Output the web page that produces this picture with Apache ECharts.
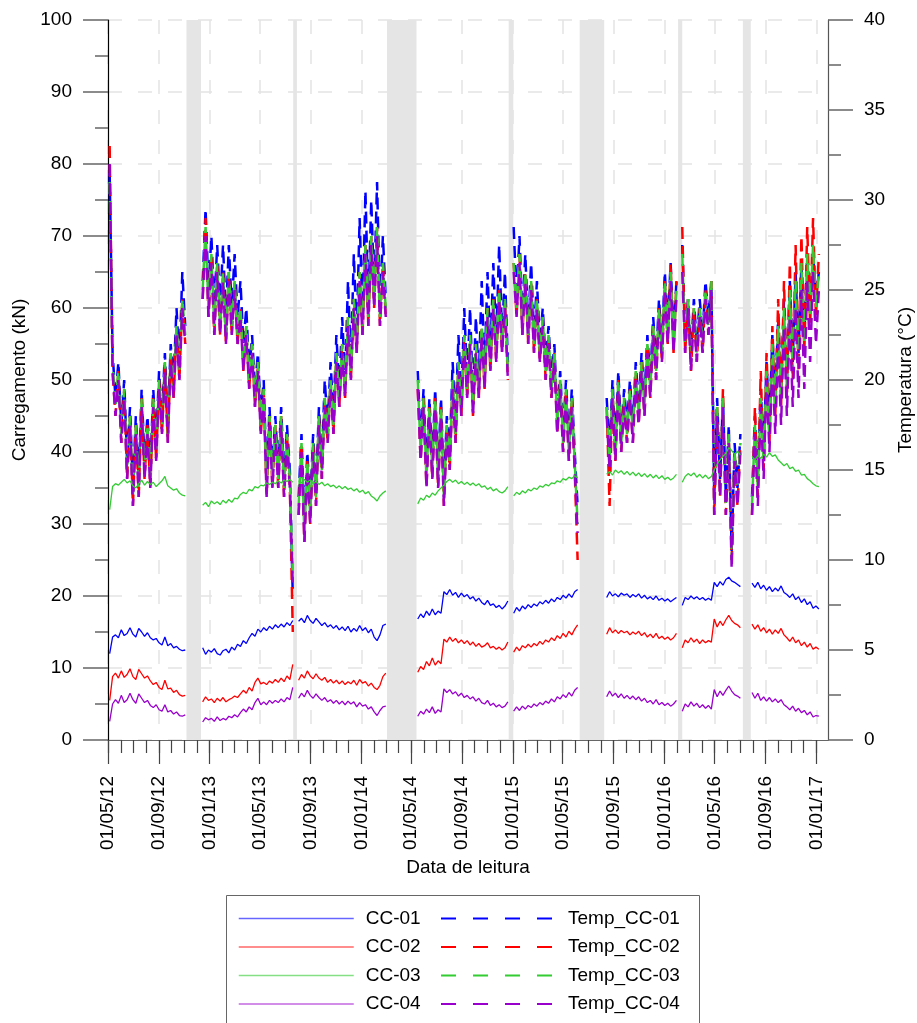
<!DOCTYPE html>
<html><head><meta charset="utf-8">
<script src="https://cdn.jsdelivr.net/npm/echarts@6/dist/echarts.min.js"></script>
<style>html,body{margin:0;padding:0;background:#fff}#c{width:917px;height:1023px}</style>
</head><body><div id="c"></div><script>
const _ = null;
// weekly samples starting 2012-05-05; null = no reading (grey periods)
const firstSampleDate = '2012-05-05';
const sampleStepDays = 7;

const xTickLabels = ['01/05/12','01/09/12','01/01/13','01/05/13','01/09/13','01/01/14','01/05/14','01/09/14','01/01/15','01/05/15','01/09/15','01/01/16','01/05/16','01/09/16','01/01/17'];
const gapPeriods = [['2012-11-06','2012-12-11'],['2013-07-21','2013-07-30'],['2014-03-04','2014-05-14'],['2014-12-22','2015-01-02'],['2015-06-11','2015-08-09'],['2016-02-03','2016-02-13'],['2016-07-08','2016-07-27']];

const cc01 = [
12.0,14.3,14.6,14.2,15.3,14.5,14.8,15.6,14.7,14.3,15.5,15.0,14.4,14.9,14.2,13.9,14.1,13.5,13.2,14.3,13.1,13.4,12.8,13.0,12.6,12.4,12.5,
_,_,_,_,_,
12.8,11.9,12.5,12.2,12.7,12.0,11.8,12.4,12.6,12.1,12.9,12.5,13.3,13.0,13.8,13.4,14.2,14.8,14.4,15.4,15.0,15.6,15.2,15.8,15.4,16.0,15.6,16.1,15.7,16.3,15.9,16.6,
_,
16.5,16.9,16.3,17.3,16.6,16.2,16.9,16.4,15.9,16.3,15.7,16.0,15.5,15.9,15.3,15.7,15.2,15.8,15.0,15.5,15.1,15.9,15.2,15.6,14.9,15.4,14.3,13.8,14.6,15.9,16.1,
_,_,_,_,_,_,_,_,_,_,
16.8,17.5,17.0,17.9,17.3,18.2,17.4,17.9,17.6,20.6,20.2,20.9,20.1,20.5,19.8,20.4,19.9,20.2,19.6,19.9,19.3,19.7,19.1,18.8,19.4,18.7,18.9,18.4,18.7,18.2,18.6,19.3,
_,
17.6,18.4,17.9,18.6,18.2,18.8,18.4,18.9,18.6,19.2,18.9,19.4,19.0,19.6,19.2,19.8,19.5,20.1,19.7,20.3,19.8,20.6,20.9,
_,_,_,_,_,_,_,_,_,
19.8,20.6,20.0,20.3,19.9,20.4,20.1,20.3,19.8,20.2,19.9,20.3,19.7,20.1,19.6,19.9,19.5,20.0,19.4,19.7,19.3,19.6,19.2,19.5,19.8,
_,
18.7,19.8,19.5,20.0,19.6,19.9,19.5,19.8,19.4,19.7,19.4,21.9,21.3,22.0,21.5,22.3,22.6,22.1,21.9,21.6,21.3,
_,_,_,
21.8,21.2,21.9,21.0,21.5,20.8,21.3,20.6,21.1,20.7,21.4,20.5,20.2,19.8,20.3,19.5,19.9,19.1,19.6,18.8,19.2,18.3,18.6,18.2];

const cc02 = [
5.5,8.8,9.3,8.6,9.6,8.7,9.1,9.9,8.8,8.4,9.8,9.2,8.6,8.9,8.2,7.7,8.0,7.3,7.0,8.3,7.1,7.2,6.6,6.9,6.3,6.1,6.2,
_,_,_,_,_,
5.3,6.0,5.5,5.7,5.2,5.8,5.4,5.9,5.3,5.6,5.8,6.1,5.9,6.4,6.9,6.5,7.3,6.8,8.0,8.6,7.8,8.0,7.7,8.2,7.9,8.4,8.0,8.6,8.1,8.9,8.4,10.5,
_,
8.3,9.1,8.6,9.6,8.9,8.5,9.2,8.6,8.3,8.7,8.0,8.4,7.9,8.3,7.8,8.2,7.7,8.1,7.8,8.3,7.6,8.4,7.9,8.1,7.5,7.9,7.3,7.0,7.6,8.8,9.3,
_,_,_,_,_,_,_,_,_,_,
9.4,10.2,9.8,10.9,10.3,11.4,10.4,11.0,10.6,14.0,13.6,14.3,13.7,14.1,13.5,13.9,13.4,13.8,13.2,13.6,13.0,13.4,12.9,13.1,13.5,12.8,13.0,12.6,12.9,12.5,12.8,13.6,
_,
12.2,12.9,12.4,13.1,12.8,13.3,12.9,13.4,13.1,13.7,13.3,13.9,13.6,14.2,13.8,14.5,14.1,14.8,14.3,15.1,14.6,15.4,16.0,
_,_,_,_,_,_,_,_,_,
14.7,15.6,14.9,15.3,14.8,15.2,14.9,15.1,14.6,15.0,14.7,15.1,14.5,14.9,14.3,14.7,14.2,14.8,14.1,14.4,14.0,14.3,13.9,14.2,14.8,
_,
12.8,13.9,13.5,14.2,13.6,14.0,13.4,13.9,13.5,13.8,13.6,16.8,15.7,16.5,15.9,16.7,17.3,16.6,16.2,16.0,15.6,
_,_,_,
16.1,15.4,16.0,15.1,15.6,14.9,15.4,14.7,15.3,14.8,15.5,14.6,14.2,13.7,14.3,13.5,13.9,13.1,13.6,12.9,13.4,12.6,12.9,12.6];

const cc03 = [
32.0,35.2,35.6,35.4,35.8,36.2,35.7,36.0,35.3,35.0,35.6,36.1,35.4,35.9,35.5,35.8,35.2,35.6,36.0,36.6,35.3,35.0,34.7,34.9,34.3,34.0,33.9,
_,_,_,_,_,
32.6,33.0,32.4,33.2,32.8,33.1,32.7,33.3,32.9,33.4,33.0,33.6,33.5,34.1,34.4,34.2,34.8,34.6,35.2,35.0,35.4,35.3,35.7,35.5,35.8,35.6,36.0,35.7,36.1,35.9,36.2,35.8,
_,
36.0,35.7,36.2,35.8,36.1,35.6,35.9,35.5,35.8,35.3,35.6,35.2,35.4,35.0,35.3,34.9,35.2,34.8,35.0,34.6,34.9,34.4,34.7,34.2,34.5,33.9,33.6,33.2,33.9,34.3,34.6,
_,_,_,_,_,_,_,_,_,_,
32.8,33.6,33.3,34.0,33.7,34.3,34.0,34.6,35.0,35.4,35.9,36.2,35.8,36.1,35.6,35.9,35.5,35.8,35.4,35.7,35.3,35.6,35.1,35.3,34.8,35.1,34.6,34.9,34.5,34.3,34.6,35.2,
_,
33.9,34.4,34.1,34.6,34.3,34.8,34.6,35.0,34.8,35.3,35.1,35.5,35.3,35.7,35.6,36.0,35.8,36.3,36.1,36.5,36.3,36.7,36.4,
_,_,_,_,_,_,_,_,_,
36.9,37.3,36.8,37.5,37.1,37.4,36.9,37.3,36.8,37.2,36.7,37.1,36.6,37.0,36.5,36.9,36.4,36.8,36.3,36.7,36.2,36.5,36.1,36.4,36.9,
_,
35.8,36.6,37.0,36.7,37.1,36.5,36.9,36.4,36.8,36.3,36.6,37.5,38.3,38.9,39.4,39.8,40.6,40.2,39.7,40.1,39.6,
_,_,_,
39.4,38.9,39.5,39.1,39.7,39.3,39.9,39.4,39.6,38.9,38.5,38.1,38.4,37.7,37.9,37.3,37.5,36.8,36.9,36.3,36.0,35.6,35.3,35.2];

const cc04 = [
2.6,5.0,5.6,5.1,6.2,5.2,5.6,6.5,5.6,5.1,6.4,5.8,5.2,5.5,4.8,4.5,4.9,4.2,4.0,4.9,3.9,4.1,3.6,3.9,3.4,3.3,3.5,
_,_,_,_,_,
2.5,3.1,2.8,3.0,2.6,3.2,2.7,3.0,2.8,3.3,3.1,3.5,3.2,3.8,4.3,3.9,4.6,4.2,5.2,5.8,4.9,5.3,4.9,5.5,5.1,5.5,5.2,5.7,5.3,5.9,5.6,7.3,
_,
5.8,6.5,6.0,6.9,6.2,5.8,6.4,5.9,5.5,5.9,5.3,5.6,5.1,5.5,5.0,5.4,4.9,5.4,5.0,5.3,4.6,5.2,4.7,4.9,4.3,4.6,3.9,3.4,4.1,4.6,4.7,
_,_,_,_,_,_,_,_,_,_,
3.3,4.0,3.6,4.3,3.8,4.6,3.7,4.2,3.9,7.1,6.6,7.0,6.4,6.7,6.1,6.5,5.9,6.2,5.7,6.0,5.4,5.8,5.2,5.0,5.5,4.8,5.1,4.6,4.9,4.5,4.7,5.3,
_,
4.0,4.6,4.1,4.7,4.3,4.8,4.5,5.0,4.7,5.2,4.9,5.4,5.1,5.7,5.3,6.0,5.7,6.3,5.9,6.6,6.1,6.9,7.3,
_,_,_,_,_,_,_,_,_,
6.0,6.8,6.1,6.5,5.9,6.4,5.8,6.2,5.7,6.1,5.6,6.0,5.4,5.8,5.2,5.5,5.0,5.6,4.9,5.2,4.8,5.1,4.7,5.0,5.5,
_,
4.0,5.0,4.6,5.3,4.7,5.1,4.5,4.9,4.4,4.8,4.3,7.0,6.0,6.8,6.2,6.9,7.5,6.8,6.3,6.1,5.8,
_,_,_,
6.6,5.8,6.5,5.5,6.0,5.4,5.9,5.3,5.7,5.2,5.6,4.9,4.6,4.2,4.7,4.0,4.4,3.8,4.1,3.5,3.9,3.2,3.4,3.3];

const tempCC01 = [
31.5,21.5,19.0,21.0,17.5,20.0,15.5,18.5,14.0,18.0,14.5,19.5,15.5,18.0,15.0,19.5,16.5,20.5,18.0,21.5,17.5,22.0,20.0,24.0,21.0,26.0,23.0,
_,_,_,_,_,
25.5,29.5,25.0,28.0,24.0,27.5,24.0,27.5,23.5,27.5,24.0,27.0,23.5,25.5,22.0,24.0,20.5,22.5,19.5,21.5,18.0,20.0,14.5,18.5,15.0,18.0,15.0,18.5,14.5,17.5,15.0,8.0,
_,
13.5,17.0,12.0,16.0,13.0,17.0,14.0,18.5,15.5,20.0,17.5,21.0,18.0,22.5,19.5,23.5,20.0,25.5,21.0,27.0,22.5,29.0,23.5,30.5,24.0,30.0,25.0,31.0,24.0,28.0,24.5,
_,_,_,_,_,_,_,_,_,_,
20.5,16.5,19.5,15.0,19.0,15.5,19.5,15.0,19.0,14.0,18.0,16.0,21.0,17.5,22.5,19.0,24.0,20.0,24.0,19.0,23.5,20.0,25.5,20.5,26.0,21.5,26.5,22.0,27.5,22.5,26.0,21.0,
_,
28.5,24.5,28.0,23.5,27.0,23.0,26.5,22.5,25.5,22.0,24.0,21.0,23.0,20.0,22.0,18.0,20.5,17.0,20.0,16.5,19.5,16.0,13.0,
_,_,_,_,_,_,_,_,_,
19.0,16.0,20.0,16.5,20.5,17.0,19.5,17.5,20.0,17.5,21.0,18.5,21.5,19.0,22.5,20.0,23.5,21.0,24.5,22.0,26.0,23.0,26.5,22.5,25.5,
_,
27.5,22.5,24.5,21.5,24.5,22.0,24.5,22.5,25.5,23.5,25.5,13.5,19.0,14.5,19.0,13.5,17.5,10.5,16.5,14.0,17.0,
_,_,_,
13.5,18.0,14.5,19.5,16.0,21.0,17.5,22.5,19.0,23.5,19.5,24.5,20.0,25.5,21.0,26.0,21.5,26.5,22.5,27.0,24.0,27.0,24.5,26.0];

const tempCC02 = [
33.0,20.5,18.0,20.5,16.5,19.5,14.5,18.0,13.0,17.5,13.5,19.0,14.5,17.5,14.0,19.0,15.5,20.0,17.0,21.0,16.5,21.5,19.0,23.0,20.0,24.5,22.0,
_,_,_,_,_,
24.5,29.0,23.5,27.0,22.5,26.5,22.5,26.0,22.0,26.0,22.5,25.5,22.0,24.0,20.5,23.0,19.5,22.0,18.5,21.0,17.0,19.5,13.5,18.0,14.0,17.5,14.0,18.0,13.5,17.0,14.0,6.0,
_,
12.5,16.5,11.0,15.5,12.0,16.5,13.0,18.0,14.5,19.0,16.5,20.0,17.0,21.5,18.5,22.0,19.0,23.5,20.0,24.5,21.5,26.0,22.5,27.5,23.0,28.0,24.0,28.5,23.0,26.5,23.5,
_,_,_,_,_,_,_,_,_,_,
19.5,15.5,19.0,14.0,18.5,14.5,19.0,14.0,18.5,13.0,17.5,15.0,20.0,16.5,21.0,18.0,22.5,19.0,22.5,18.0,22.0,19.0,23.0,19.5,24.0,20.5,24.5,21.0,25.0,21.5,24.5,20.0,
_,
26.5,23.5,27.0,22.5,26.0,22.0,25.5,21.5,24.5,21.0,23.5,20.0,22.5,19.0,21.5,17.0,20.0,16.0,19.5,15.5,19.0,15.0,10.0,
_,_,_,_,_,_,_,_,_,
18.5,13.0,19.5,15.5,20.0,16.0,19.0,16.5,19.5,16.5,20.5,17.5,21.0,18.0,22.0,19.0,23.0,20.0,24.0,21.0,25.5,22.0,26.5,21.5,25.5,
_,
28.5,21.5,24.5,20.5,24.0,21.0,24.0,21.5,25.0,22.5,25.5,12.5,18.5,13.5,19.5,12.5,17.0,10.0,16.0,13.0,16.5,
_,_,_,
12.5,18.5,13.5,20.5,15.0,21.5,16.5,23.0,18.0,24.5,18.5,25.5,19.0,26.5,20.0,27.5,20.5,28.0,21.5,28.5,23.0,29.0,23.5,27.0];

const tempCC03 = [
31.0,21.0,18.5,20.5,17.0,19.5,15.0,18.0,13.5,17.5,14.0,19.0,15.0,17.5,14.5,19.0,16.0,20.0,17.5,21.0,17.0,21.5,19.5,23.0,20.5,24.5,22.5,
_,_,_,_,_,
25.0,28.5,24.0,27.0,23.0,26.5,23.0,26.0,22.5,26.0,23.0,25.5,22.5,24.0,21.0,23.0,20.0,22.0,19.0,21.0,17.5,19.5,14.0,18.0,14.5,17.5,14.5,18.0,14.0,17.0,14.5,9.0,
_,
13.0,16.5,11.5,15.5,12.5,16.5,13.5,18.0,15.0,19.0,17.0,20.0,17.5,21.5,19.0,22.0,19.5,23.5,20.5,24.5,22.0,26.0,23.0,27.5,23.5,28.0,24.5,28.5,23.5,26.5,24.0,
_,_,_,_,_,_,_,_,_,_,
20.0,16.0,19.0,14.5,18.5,15.0,19.0,14.5,18.5,13.5,17.5,15.5,20.0,17.0,21.0,18.5,22.5,19.5,22.5,18.5,22.0,19.5,23.0,20.0,24.0,21.0,24.5,21.5,25.0,22.0,24.5,20.5,
_,
26.5,24.0,27.0,23.0,26.0,22.5,25.5,22.0,24.5,21.5,23.5,20.5,22.5,19.5,21.5,17.5,20.0,16.5,19.5,16.0,19.0,15.5,12.0,
_,_,_,_,_,_,_,_,_,
18.5,15.5,19.5,16.0,20.0,16.5,19.0,17.0,19.5,17.0,20.5,18.0,21.0,18.5,22.0,19.5,23.0,20.5,24.0,21.5,25.5,22.5,26.0,22.0,25.0,
_,
27.0,22.0,24.5,21.0,24.0,21.5,24.0,22.0,25.0,23.0,25.5,13.0,18.5,14.0,19.0,13.0,17.0,10.0,16.0,13.5,16.5,
_,_,_,
13.0,17.5,14.0,19.0,15.5,20.5,17.0,22.0,18.5,23.0,19.0,24.0,19.5,25.0,20.5,25.5,21.0,26.5,22.0,27.0,23.5,27.5,24.0,26.0];

const tempCC04 = [
32.0,20.5,18.0,20.0,16.5,19.0,14.5,17.5,13.0,17.0,13.5,18.5,14.5,17.0,14.0,18.5,15.5,19.5,17.0,20.5,16.5,21.0,19.0,22.5,20.0,24.0,22.0,
_,_,_,_,_,
24.5,28.0,23.5,26.5,22.5,26.0,22.5,25.5,22.0,25.5,22.5,25.0,22.0,23.5,20.5,22.5,19.5,21.5,18.5,20.5,17.0,19.0,13.5,17.5,14.0,17.0,14.0,17.5,13.5,16.5,14.0,8.5,
_,
12.5,16.0,11.0,15.0,12.0,16.0,13.0,17.5,14.5,18.5,16.5,19.5,17.0,21.0,18.5,21.5,19.0,23.0,20.0,24.0,21.5,25.5,22.5,27.0,23.0,27.5,24.0,28.0,23.0,26.0,23.5,
_,_,_,_,_,_,_,_,_,_,
19.5,15.5,18.5,14.0,18.0,14.5,18.5,14.0,18.0,13.0,17.0,15.0,19.5,16.5,20.5,18.0,22.0,19.0,22.0,18.0,21.5,19.0,22.5,19.5,23.5,20.5,24.0,21.0,24.5,21.5,24.0,20.0,
_,
26.0,23.5,26.5,22.5,25.5,22.0,25.0,21.5,24.0,21.0,23.0,20.0,22.0,19.0,21.0,17.0,19.5,16.0,19.0,15.5,18.5,15.0,11.5,
_,_,_,_,_,_,_,_,_,
18.0,15.0,19.0,15.5,19.5,16.0,18.5,16.5,19.0,16.5,20.0,17.5,20.5,18.0,21.5,19.0,22.5,20.0,23.5,21.0,25.0,22.0,25.5,21.5,24.5,
_,
26.0,21.5,24.0,20.5,23.5,21.0,23.5,21.5,24.5,22.5,25.0,12.5,18.0,13.5,18.5,12.5,16.5,9.5,15.5,13.0,16.0,
_,_,_,
12.5,17.0,13.0,18.5,14.5,20.0,16.0,21.0,17.0,22.0,17.5,23.0,18.0,23.5,18.5,24.0,19.0,25.0,19.5,25.5,21.0,26.0,22.0,25.0];

// ---------- build ----------
const FONT = '"Liberation Sans", Arial, Helvetica, sans-serif';
const DAY = 86400000;
const parseISO = s => { const p = s.split('-').map(Number); return Date.UTC(p[0], p[1]-1, p[2]); };
const parseDMY = s => { const p = s.split('/').map(Number); return Date.UTC(2000+p[2], p[1]-1, p[0]); };
const t0 = parseISO(firstSampleDate);
const dates = cc01.map((v, i) => t0 + i * sampleStepDays * DAY);
const majorTicks = xTickLabels.map(parseDMY);
const labelByTime = {}; xTickLabels.forEach((l, i) => labelByTime[majorTicks[i]] = l);
const minorTicks = [];
for (let y = 2012, m = 4; y < 2017 || (y === 2017 && m === 0); ) { minorTicks.push(Date.UTC(y, m, 1)); m++; if (m > 11) { m = 0; y++; } }
const xMin = Date.UTC(2012, 4, 1), xMax = Date.UTC(2017, 0, 29);
const pair = arr => arr.map((v, i) => [dates[i], v]);

const C = { b: '#0000FF', r: '#FF0000', g: '#33CC33', p: '#9900CC' };
function loadSeries(name, arr, color) {
  return { name, type: 'line', data: pair(arr), yAxisIndex: 0, xAxisIndex: 0, showSymbol: false, symbol: 'none',
    connectNulls: false, z: 4, lineStyle: { color, width: 1.3 }, itemStyle: { color }, silent: true };
}
function tempSeries(name, arr, color) {
  return { name, type: 'line', data: pair(arr), yAxisIndex: 1, xAxisIndex: 0, showSymbol: false, symbol: 'none',
    connectNulls: false, z: 3, lineStyle: { color, width: 2.5, type: [12, 7] }, itemStyle: { color }, silent: true };
}

const legendText = pad => ({ fontSize: 19, color: '#000', fontFamily: FONT, padding: [0, 0, 0, pad] });
const chart = echarts.init(document.getElementById('c'), null, { renderer: 'canvas' });
chart.setOption({
  animation: false,
  backgroundColor: '#ffffff',
  textStyle: { fontFamily: FONT },
  grid: { left: 108, right: 89, top: 20, bottom: 283, containLabel: false, outerBoundsMode: 'none' },
  legend: [
    { data: ['CC-01','CC-02','CC-03','CC-04'], orient: 'vertical', left: 238, top: 909, padding: 0, itemWidth: 115, itemHeight: 14, itemGap: 9.5,
      textStyle: legendText(7), lineStyle: { width: 1.5, opacity: 0.6 }, itemStyle: { opacity: 0, borderWidth: 0 }, selectedMode: false },
    { data: ['Temp_CC-01','Temp_CC-02','Temp_CC-03','Temp_CC-04'], orient: 'vertical', left: 440, top: 909, padding: 0, itemWidth: 111, itemHeight: 14, itemGap: 9.5,
      textStyle: legendText(11), lineStyle: { width: 2, type: [15, 17] }, itemStyle: { opacity: 0, borderWidth: 0 }, selectedMode: false }
  ],
  graphic: [{ type: 'rect', shape: { x: 226.5, y: 895.5, width: 473, height: 140 }, style: { fill: 'none', stroke: '#666', lineWidth: 1 }, silent: true }],
  xAxis: [
    { type: 'value', min: xMin, max: xMax,
      name: 'Data de leitura', nameLocation: 'middle', nameGap: 118, nameTextStyle: { fontSize: 19, color: '#000', fontFamily: FONT },
      axisLine: { show: true, onZero: false, lineStyle: { color: '#666', width: 1.2 } },
      axisTick: { show: true, customValues: majorTicks, length: 24, lineStyle: { color: '#444', width: 1.2 } },
      axisLabel: { show: true, customValues: majorTicks, rotate: 90, margin: 36, fontSize: 19, color: '#000', fontFamily: FONT,
        formatter: v => labelByTime[v] || '' , hideOverlap: false },
      splitLine: { show: true, lineStyle: { color: '#e3e3e3', width: 1.5, type: [14, 16] } } },
    { type: 'value', min: xMin, max: xMax, position: 'bottom',
      axisLine: { show: false }, axisLabel: { show: false }, splitLine: { show: false },
      axisTick: { show: true, customValues: minorTicks, length: 13, lineStyle: { color: '#444', width: 1.2 } } }
  ],
  yAxis: [
    { type: 'value', min: 0, max: 100, interval: 10, position: 'left',
      name: 'Carregamento (kN)', nameLocation: 'middle', nameGap: 78, nameRotate: 90, nameTextStyle: { fontSize: 19, color: '#000', fontFamily: FONT },
      axisLine: { show: true, onZero: false, lineStyle: { color: '#000', width: 1.2 } },
      axisTick: { show: true, length: 25, lineStyle: { color: '#666', width: 1.5 } },
      minorTick: { show: true, splitNumber: 2, length: 13, lineStyle: { color: '#666', width: 1.5 } },
      axisLabel: { margin: 36, fontSize: 19, color: '#000', fontFamily: FONT },
      splitLine: { show: true, lineStyle: { color: '#e3e3e3', width: 1.5, type: [14, 16] } } },
    { type: 'value', min: 0, max: 40, interval: 5, position: 'right',
      name: 'Temperatura (°C)', nameLocation: 'middle', nameGap: 67, nameRotate: 90, nameTextStyle: { fontSize: 19, color: '#000', fontFamily: FONT },
      axisLine: { show: true, onZero: false, lineStyle: { color: '#555', width: 1.2 } },
      axisTick: { show: true, length: 25, lineStyle: { color: '#666', width: 1.5 } },
      minorTick: { show: true, splitNumber: 2, length: 13, lineStyle: { color: '#666', width: 1.5 } },
      axisLabel: { margin: 36, fontSize: 19, color: '#000', fontFamily: FONT },
      splitLine: { show: false } }
  ],
  series: [
    { name: 'gaps', type: 'line', data: [], xAxisIndex: 0, yAxisIndex: 0, z: 1, silent: true,
      markArea: { silent: true, itemStyle: { color: '#e5e5e5' },
        data: gapPeriods.map(g => [{ xAxis: parseISO(g[0]) }, { xAxis: parseISO(g[1]) }]) } },
    tempSeries('Temp_CC-01', tempCC01, C.b),
    tempSeries('Temp_CC-02', tempCC02, C.r),
    tempSeries('Temp_CC-03', tempCC03, C.g),
    tempSeries('Temp_CC-04', tempCC04, C.p),
    loadSeries('CC-01', cc01, C.b),
    loadSeries('CC-02', cc02, C.r),
    loadSeries('CC-03', cc03, C.g),
    loadSeries('CC-04', cc04, C.p)
  ]
});
</script></body></html>
